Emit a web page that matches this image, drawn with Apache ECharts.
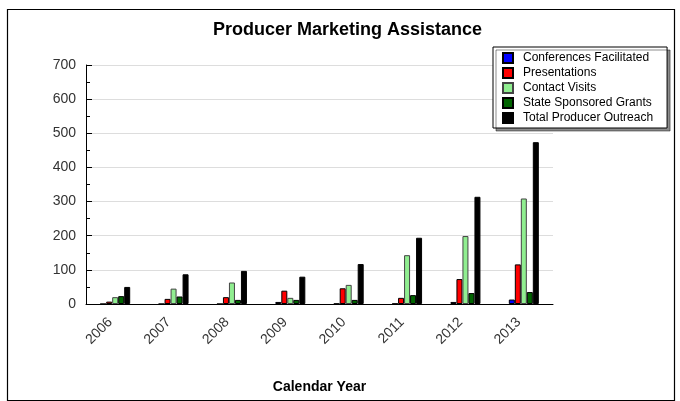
<!DOCTYPE html>
<html>
<head>
<meta charset="utf-8">
<script src="https://cdn.jsdelivr.net/npm/echarts@6/dist/echarts.min.js"></script>
<style>html,body{margin:0;padding:0;background:#fff}#c{width:680px;height:401px}</style>
</head>
<body>
<div id="c"></div>
<script>
const categories = ['2006','2007','2008','2009','2010','2011','2012','2013'];
const conferences = [0, 0, 0, 6, 1, 1, 6, 13];
const presentations = [7, 15, 20, 39, 46, 18, 73, 116];
const contactVisits = [20, 45, 63, 18, 56, 143, 199, 309];
const stateGrants = [23, 22, 12, 12, 12, 26, 32, 35];
const totalOutreach = [50, 87, 97, 80, 117, 194, 314, 474];
const yTicks = [0, 100, 200, 300, 400, 500, 600, 700];

const FONT = 'Liberation Sans, Arial, sans-serif';
const chart = echarts.init(document.getElementById('c'));
function s(name, data, color, border) {
  return {
    name, type: 'bar', data, barWidth: 6, barGap: '0%',
    itemStyle: { color, borderColor: border, borderWidth: 1 }
  };
}
chart.setOption({
  animation: false,
  backgroundColor: '#fff',
  textStyle: { fontFamily: FONT },
  title: {
    text: 'Producer Marketing Assistance',
    left: 208, top: 16,
    textStyle: { fontSize: 18, fontWeight: 'bold', color: '#000', fontFamily: FONT }
  },
  legend: {
    orient: 'vertical', left: 493, top: 47,
    itemWidth: 10, itemHeight: 10, itemGap: 3,
    padding: [5, 14, 4, 9],
    backgroundColor: '#fff', borderColor: '#000', borderWidth: 1,
    shadowColor: 'rgba(0,0,0,0.45)', shadowOffsetX: 3, shadowOffsetY: 3, shadowBlur: 0,
    icon: 'rect',
    textStyle: { fontSize: 12, color: '#000', fontFamily: FONT, padding: [0, 0, 0, 5] },
    data: ['Conferences Facilitated', 'Presentations', 'Contact Visits', 'State Sponsored Grants', 'Total Producer Outreach']
  },
  grid: { left: 86, right: 127, top: 65, bottom: 97 },
  xAxis: {
    type: 'category', data: categories,
    name: 'Calendar Year', nameLocation: 'middle', nameGap: 76,
    nameTextStyle: { fontSize: 14, fontWeight: 'bold', color: '#000', fontFamily: FONT },
    axisLine: { lineStyle: { color: '#000', width: 1 } },
    axisTick: { inside: true, length: 6, lineStyle: { color: '#000' } },
    axisLabel: { rotate: 45, fontSize: 14, color: '#333', margin: 11, padding: [0, 7, 0, 0], fontFamily: FONT }
  },
  yAxis: {
    type: 'value', min: 0, max: 700, interval: 100,
    axisLine: { show: true, lineStyle: { color: '#000', width: 1 } },
    axisTick: { show: true, inside: true, length: 6, lineStyle: { color: '#000' } },
    minorTick: { show: true, splitNumber: 2, length: 4, lineStyle: { color: '#000' } },
    axisLabel: { fontSize: 14, color: '#333', margin: 10, fontFamily: FONT,
      formatter: v => yTicks.includes(v) ? String(v) : '' },
    splitLine: { show: true, lineStyle: { color: '#ddd', width: 1 } }
  },
  series: [
    s('Conferences Facilitated', conferences, '#0000ff', '#000'),
    s('Presentations', presentations, '#ff0000', '#000'),
    s('Contact Visits', contactVisits, '#90ee90', '#444'),
    s('State Sponsored Grants', stateGrants, '#006400', '#000'),
    s('Total Producer Outreach', totalOutreach, '#000000', '#000')
  ],
  graphic: [{
    type: 'rect', left: 5, top: 7, silent: true, z: -1,
    shape: { width: 667, height: 391 },
    style: { fill: 'none', stroke: '#000', lineWidth: 1.2 }
  }]
});
</script>
</body>
</html>
